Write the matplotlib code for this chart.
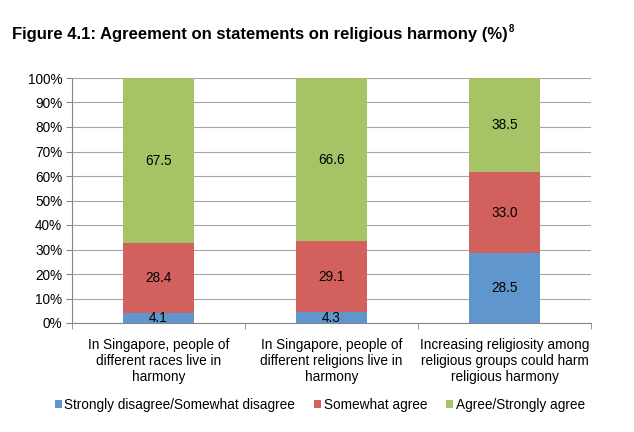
import matplotlib.pyplot as plt
import numpy as np

plt.rcParams['font.family'] = ['Liberation Sans', 'DejaVu Sans']

# data
categories = ['In Singapore, people of\ndifferent races live in\nharmony',
              'In Singapore, people of\ndifferent religions live in\nharmony',
              'Increasing religiosity among\nreligious groups could harm\nreligious harmony']
disagree = [4.1, 4.3, 28.5]
somewhat = [28.4, 29.1, 33.0]
agree = [67.5, 66.6, 38.5]
series_names = ['Strongly disagree/Somewhat disagree', 'Somewhat agree', 'Agree/Strongly agree']
colors = ['#5F96CD', '#D2605C', '#A6C466']

fig = plt.figure(figsize=(6.34, 4.32), dpi=100)
ax = fig.add_axes([72 / 634, 1 - 323 / 432, (591 - 72) / 634, (323 - 78) / 432])

# title with small superscript footnote mark
title = fig.text(12 / 634, 1 - 35 / 432, 'Figure 4.1: Agreement on statements on religious harmony (%)',
                 fontsize=12, fontweight='bold', va='center', ha='left')
fig.add_artist(plt.Annotation('8', xy=(1, 1), xycoords=title, xytext=(1, 2.5), textcoords='offset points',
                              fontsize=7, fontweight='bold', ha='left', va='top'))

x = np.arange(len(categories))
bottom = np.zeros(len(categories))
for vals, name, col in zip([disagree, somewhat, agree], series_names, colors):
    vals = np.array(vals)
    ax.bar(x, vals, width=0.41, bottom=bottom, color=col, label=name, zorder=2)
    for xi, b, v in zip(x, bottom, vals):
        ax.text(xi, b + v / 2, '{:.1f}'.format(v), ha='center', va='center', fontsize=9.8, zorder=3)
    bottom = bottom + vals

ax.set_xlim(-0.5, 2.5)
ax.set_ylim(0, 100)
ax.set_yticks(np.arange(0, 101, 10))
ax.set_yticklabels(['{:d}%'.format(v) for v in range(0, 101, 10)], fontsize=9.8)
ax.yaxis.grid(True, color='#A6A6A6', linewidth=0.8, zorder=0)
ax.set_axisbelow(True)

ax.set_xticks(x)
ax.set_xticklabels(categories, fontsize=9.8, linespacing=1.15)
ax.tick_params(axis='x', length=0, pad=11)
ax.set_xticks([-0.5, 0.5, 1.5, 2.5], minor=True)
ax.tick_params(axis='x', which='minor', length=4, color='#868686')
ax.tick_params(axis='y', length=4, color='#868686', pad=3)

for s in ['top', 'right']:
    ax.spines[s].set_visible(False)
for s in ['left', 'bottom']:
    ax.spines[s].set_color('#868686')
    ax.spines[s].set_linewidth(0.8)

fig.legend(*ax.get_legend_handles_labels(), loc='center', bbox_to_anchor=(320 / 634, 1 - 405 / 432),
           ncol=3, frameon=False, fontsize=9.8, handlelength=0.5, handleheight=0.5,
           handletextpad=0.2, columnspacing=1.4)

fig.savefig('out.png', dpi=100)
